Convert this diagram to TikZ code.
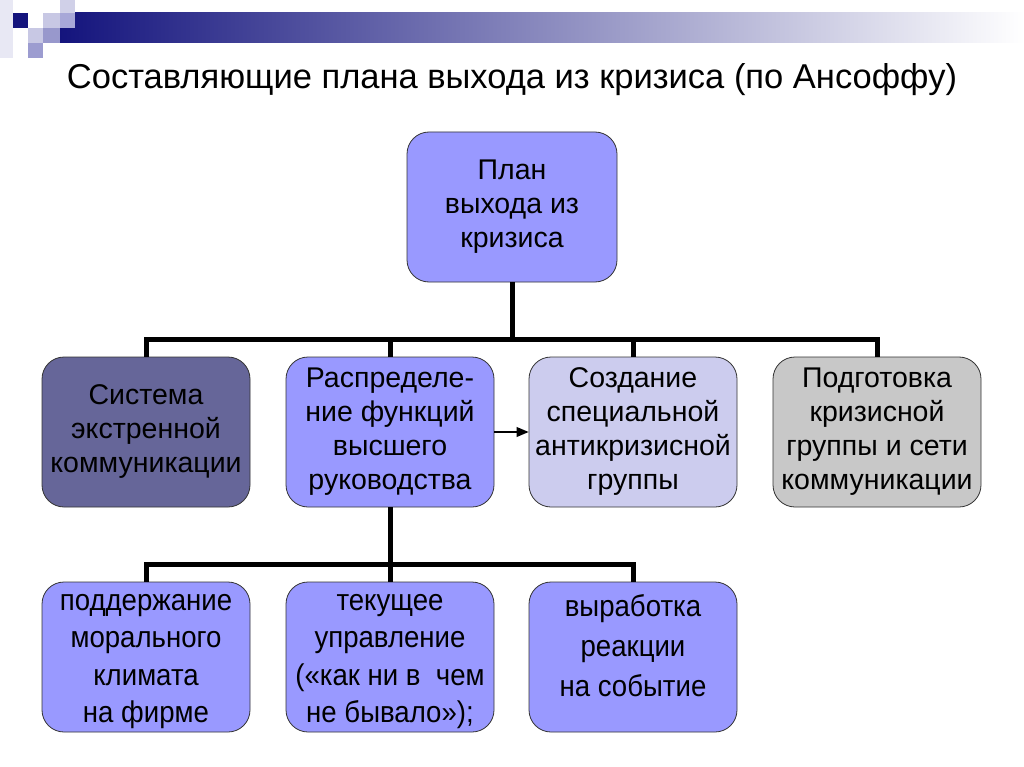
\documentclass[tikz,border=0pt]{standalone}
\usepackage{fontspec}
\setmainfont{Liberation Sans}
\newfontfamily\narrowfont[FakeStretch=0.92]{Liberation Sans}
\usetikzlibrary{arrows}
\definecolor{planblue}{RGB}{153,153,255}
\definecolor{darkblue}{RGB}{102,102,153}
\definecolor{paleblue}{RGB}{204,204,238}
\definecolor{greybox}{RGB}{200,200,200}
\definecolor{navy}{RGB}{20,20,125}
\tikzset{
  box/.style={draw=black!80, line width=0.8pt, rounded corners=22pt, minimum width=208pt, minimum height=150pt, inner sep=0pt, align=center, font=\fontsize{28.5}{34}\selectfont},
  lowbox/.style={box, font=\narrowfont\fontsize{30}{37.5}\selectfont},
  tree/.style={line width=5pt}
}

\begin{document}
\begin{tikzpicture}[line join=miter,>=triangle 45,x=1pt,y=-1pt]
\useasboundingbox (0,0) rectangle (1024,767);
\shade [left color=navy, right color=white] (60,13) rectangle (1024,43);
\fill [color={rgb,255:red,232;green,232;blue,244}] (0,0) rectangle (13,58);
\fill [color=navy!100!black] (13,13) rectangle (28,28);
\fill [color={rgb,255:red,200;green,200;blue,228}] (43,13) rectangle (60,28);
\fill [color={rgb,255:red,208;green,208;blue,232}] (60,0) rectangle (75,13);
\fill [color={rgb,255:red,168;green,168;blue,216}] (60,13) rectangle (75,28);
\fill [color={rgb,255:red,200;green,200;blue,228}] (28,28) rectangle (43,43);
\fill [color={rgb,255:red,152;green,152;blue,204}] (43,28) rectangle (60,43);
\fill [color={rgb,255:red,156;green,156;blue,208}] (28,43) rectangle (43,58);

\node (title) at (512,80) {\fontsize{34.5}{40}\selectfont Составляющие плана выхода из кризиса (по Ансоффу)};

\node [box, fill=planblue, minimum width=210pt] (plan) at (512,207) {План\\выхода из\\кризиса};

\node [box, fill=darkblue] (sys) at (146,432) {Система\\экстренной\\коммуникации};
\node [box, fill=planblue] (raspr) at (390,432) {Распределе-\\ние функций\\высшего\\руководства};
\node [box, fill=paleblue] (sozd) at (633,432) {Создание\\специальной\\антикризисной\\группы};
\node [box, fill=greybox] (podg) at (877,432) {Подготовка\\кризисной\\группы и сети\\коммуникации};

\node [lowbox, fill=planblue] (podd) at (146,657) {\mbox{}\\[-12pt]поддержание\\морального\\климата\\на фирме};
\node [lowbox, fill=planblue] (tek) at (390,657) {\mbox{}\\[-12pt]текущее\\управление\\(«как ни в~~чем\\не бывало»);};
\node [lowbox, fill=planblue, font=\narrowfont\fontsize{30}{40}\selectfont] (vyr) at (633,657) {выработка\\реакции\\на событие\\[-16pt]\mbox{}};

\coordinate (top) at (512,339);
\coordinate (mid) at (390,564);

\draw [tree] (plan.south) -- (top);
\draw [tree] (sys.north) |- (top) -| (podg.north);
\draw [tree] (raspr.north |- top) -- (raspr.north);
\draw [tree] (sozd.north |- top) -- (sozd.north);

\draw [tree] (raspr.south) -- (mid);
\draw [tree] (podd.north) |- (mid) -| (vyr.north);
\draw [tree] (mid) -- (tek.north);

\draw [->, line width=1.8pt] (raspr.east) -- (sozd.west);
\end{tikzpicture}
\end{document}
